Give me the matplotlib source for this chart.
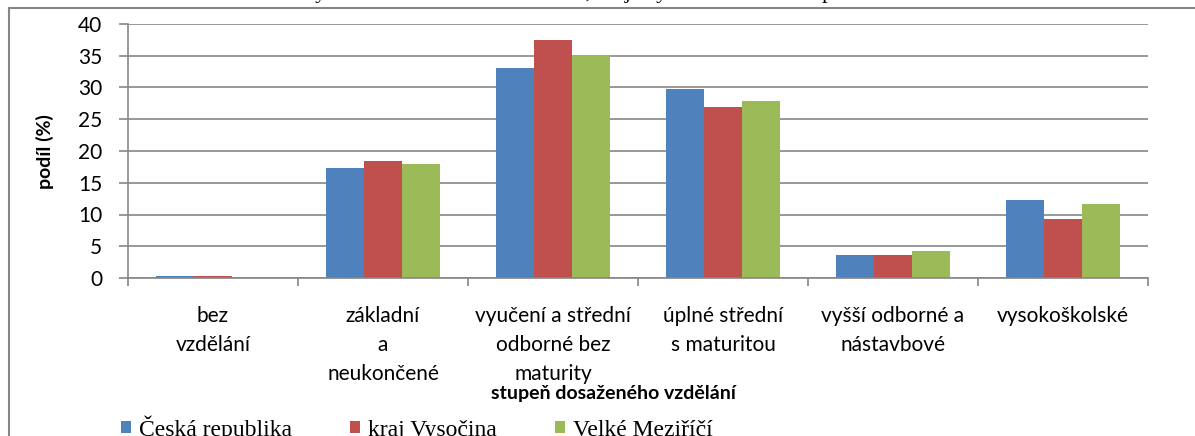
import numpy as np
import matplotlib
matplotlib.use('Agg')
import matplotlib.pyplot as plt
from matplotlib.patches import Patch
from matplotlib.lines import Line2D

# ---------------- data ----------------
kategorie = ['bez\nvzdělání',
             'základní\na\nneukončené',
             'vyučení a střední\nodborné bez\nmaturity',
             'úplné střední\ns maturitou',
             'vyšší odborné a\nnástavbové',
             'vysokoškolské']
ceska_republika = [0.3, 17.4, 33.1, 29.7, 3.7, 12.3]
kraj_vysocina = [0.3, 18.5, 37.5, 26.9, 3.7, 9.3]
velke_mezirici = [0.0, 18.0, 35.1, 27.8, 4.2, 11.7]
serie = ['Česká republika', 'kraj Vysočina', 'Velké Meziříčí']
barvy = ['#4F81BD', '#C0504D', '#9BBB59']

popisek = ('Graf č. 5: Vzdělanostní struktura obyvatelstva ve Velkém Meziříčí, '
           'kraji Vysočina a České republice v roce 2001')

plt.rcParams['font.family'] = ['Lato', 'DejaVu Sans']
seda = '#868686'

W, H = 1195, 436
fig = plt.figure(figsize=(W / 100, H / 100), dpi=100)
ax = fig.add_axes([128 / W, 1 - 278 / H, 1020 / W, 254 / H])

x = np.arange(len(kategorie))
w = 0.224
for i, (hodnoty, nazev, c) in enumerate(zip([ceska_republika, kraj_vysocina, velke_mezirici], serie, barvy)):
    ax.bar(x + (i - 1) * w, hodnoty, w, color=c, label=nazev)

ax.set_xlim(-0.5, len(kategorie) - 0.5)
ax.set_ylim(0, 40)
ax.set_yticks(range(0, 41, 5))
ax.yaxis.grid(True, color=seda, lw=1.2)
ax.set_axisbelow(True)
for s in ['top', 'right']:
    ax.spines[s].set_visible(False)
for s in ['left', 'bottom']:
    ax.spines[s].set_color(seda)
    ax.spines[s].set_linewidth(1.2)

# tick marks between categories, labels at centres
ax.set_xticks(np.arange(-0.5, len(kategorie), 1))
ax.set_xticklabels([])
ax.set_xticks(x, kategorie, minor=True)
ax.tick_params(axis='x', which='major', direction='out', length=6, width=1.2, color=seda)
ax.tick_params(axis='x', which='minor', length=0, pad=20, labelsize=15)
for t in ax.get_xticklabels(minor=True):
    t.set_linespacing(1.58)
ax.tick_params(axis='y', direction='out', length=6.5, width=1.2, color=seda, pad=12, labelsize=15)

# axis titles
fig.text(45 / W, 1 - 152 / H, 'podíl (%)', rotation=90, ha='center', va='center',
         fontsize=14, fontweight='bold')
fig.text(613 / W, 1 - 393 / H, 'stupeň dosaženého vzdělání', ha='center', va='center',
         fontsize=14, fontweight='bold')

# legend
handles = [Patch(facecolor=c, edgecolor='none') for c in barvy]
fig.legend(handles, serie, loc='center left', bbox_to_anchor=(121 / W, 1 - 428 / H),
           ncol=3, frameon=False, prop={'family': 'Liberation Serif', 'size': 17},
           handlelength=0.42, handleheight=0.42, handletextpad=0.35,
           columnspacing=2.45, borderpad=0, borderaxespad=0)

# outer frame (left and top edge)
fig.add_artist(Line2D([8.5 / W, 8.5 / W], [0, 1 - 8.5 / H], transform=fig.transFigure, color=seda, lw=1.5))
fig.add_artist(Line2D([8.5 / W, 1], [1 - 8.5 / H, 1 - 8.5 / H], transform=fig.transFigure, color=seda, lw=1.5))

# caption cut off at the top
fig.text(-0.003, 1 + 2 / H, popisek, va='baseline', ha='left',
         family='Liberation Serif', fontsize=16)

fig.savefig('out.png', dpi=100)
